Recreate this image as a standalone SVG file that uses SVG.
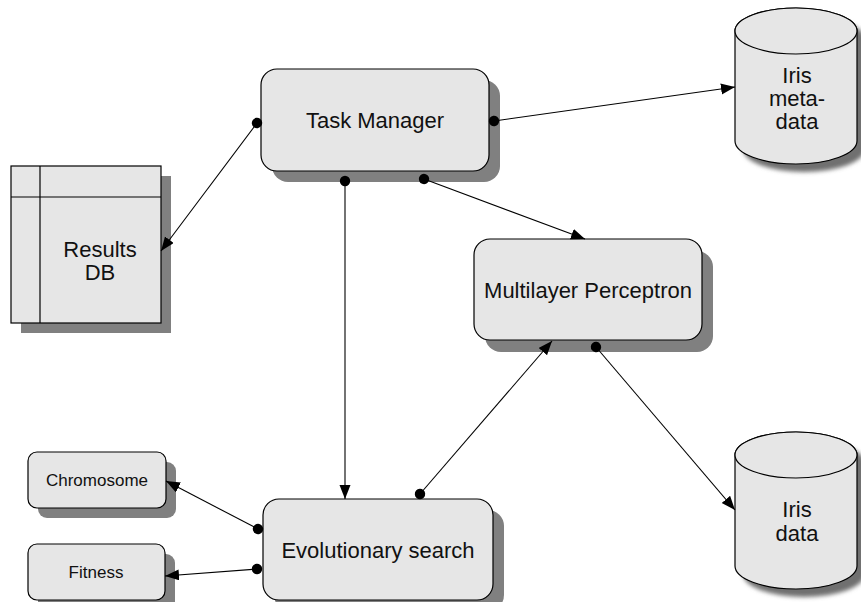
<svg xmlns="http://www.w3.org/2000/svg" width="861" height="602" viewBox="0 0 861 602">
  <style>
    .box { fill: #e6e6e6; stroke: #000; stroke-width: 1.2; }
    .shadow { fill: #808080; stroke: none; }
    .lbl { font-family: "Liberation Sans", Arial, sans-serif; font-size: 22px; fill: #111; text-anchor: middle; }
    .sm { font-size: 17px; }
    .conn { stroke: #000; stroke-width: 1.1; fill: none; marker-start: url(#dot); marker-end: url(#arrow); }
  </style>
  <defs>
    <marker id="arrow" markerUnits="userSpaceOnUse" markerWidth="15" markerHeight="12" refX="14" refY="5.5" orient="auto">
      <path d="M0,0 L14,5.5 L0,11 z" fill="#000"/>
    </marker>
    <marker id="dot" markerUnits="userSpaceOnUse" markerWidth="12" markerHeight="12" refX="6" refY="6" orient="auto">
      <circle cx="6" cy="6" r="5.2" fill="#000"/>
    </marker>
    <filter id="blur" x="-20%" y="-20%" width="140%" height="140%">
      <feGaussianBlur stdDeviation="2"/>
    </filter>
  </defs>
  <rect width="861" height="602" fill="#fff"/>

  <g id="results-db">
    <rect class="shadow" x="21" y="176" width="150" height="157"/>
    <rect class="box" x="11" y="166" width="150" height="157"/>
    <line x1="40" y1="166" x2="40" y2="323" stroke="#000" stroke-width="1.2"/>
    <line x1="11" y1="197" x2="161" y2="197" stroke="#000" stroke-width="1.2"/>
    <text class="lbl" x="100" y="257">Results</text>
    <text class="lbl" x="100" y="280">DB</text>
  </g>

  <g id="task-manager">
    <rect class="shadow" x="272" y="80" width="228" height="102" rx="16"/>
    <rect class="box" x="261" y="69" width="228" height="102" rx="16"/>
    <text class="lbl" x="375" y="128">Task Manager</text>
  </g>

  <g id="iris-metadata">
    <path d="M743,39 A61,23 0 0 1 865,39 L865,149 A61,23 0 0 1 743,149 Z" fill="#707070" filter="url(#blur)"/>
    <path class="box" d="M735,31 L735,141 A61,23 0 0 0 857,141 L857,31 A61,23 0 0 0 735,31 Z"/>
    <ellipse class="box" cx="796" cy="31" rx="61" ry="23"/>
    <text class="lbl" x="797" y="83">Iris</text>
    <text class="lbl" x="797" y="106">meta-</text>
    <text class="lbl" x="797" y="129">data</text>
  </g>

  <g id="multilayer-perceptron">
    <rect class="shadow" x="485" y="251" width="228" height="101" rx="16"/>
    <rect class="box" x="474" y="239" width="228" height="101" rx="16"/>
    <text class="lbl" x="588" y="298">Multilayer Perceptron</text>
  </g>

  <g id="iris-data">
    <path d="M743,463 A61,23 0 0 1 865,463 L865,574 A61,23 0 0 1 743,574 Z" fill="#707070" filter="url(#blur)"/>
    <path class="box" d="M735,455 L735,566 A61,23 0 0 0 857,566 L857,455 A61,23 0 0 0 735,455 Z"/>
    <ellipse class="box" cx="796" cy="455" rx="61" ry="23"/>
    <text class="lbl" x="797" y="517">Iris</text>
    <text class="lbl" x="797" y="541">data</text>
  </g>

  <g id="chromosome">
    <rect class="shadow" x="38" y="462" width="138" height="56" rx="9"/>
    <rect class="box" x="28" y="452" width="138" height="56" rx="9"/>
    <text class="lbl sm" x="97" y="486">Chromosome</text>
  </g>

  <g id="fitness">
    <rect class="shadow" x="38" y="554" width="137" height="56" rx="9"/>
    <rect class="box" x="28" y="544" width="137" height="56" rx="9"/>
    <text class="lbl sm" x="96" y="578">Fitness</text>
  </g>

  <g id="evolutionary-search">
    <rect class="shadow" x="274" y="510" width="230" height="101" rx="16"/>
    <rect class="box" x="263" y="499" width="230" height="101" rx="16"/>
    <text class="lbl" x="378" y="558">Evolutionary search</text>
  </g>

  <g id="connectors">
    <line class="conn" x1="257" y1="123" x2="161" y2="251"/>
    <line class="conn" x1="494" y1="121" x2="735" y2="87"/>
    <line class="conn" x1="345" y1="181" x2="345" y2="499"/>
    <line class="conn" x1="424" y1="179" x2="585" y2="239"/>
    <line class="conn" x1="420" y1="494" x2="552" y2="341"/>
    <line class="conn" x1="596" y1="347" x2="735" y2="510"/>
    <line class="conn" x1="258" y1="529" x2="166" y2="481"/>
    <line class="conn" x1="257" y1="569" x2="165" y2="576"/>
  </g>
</svg>
